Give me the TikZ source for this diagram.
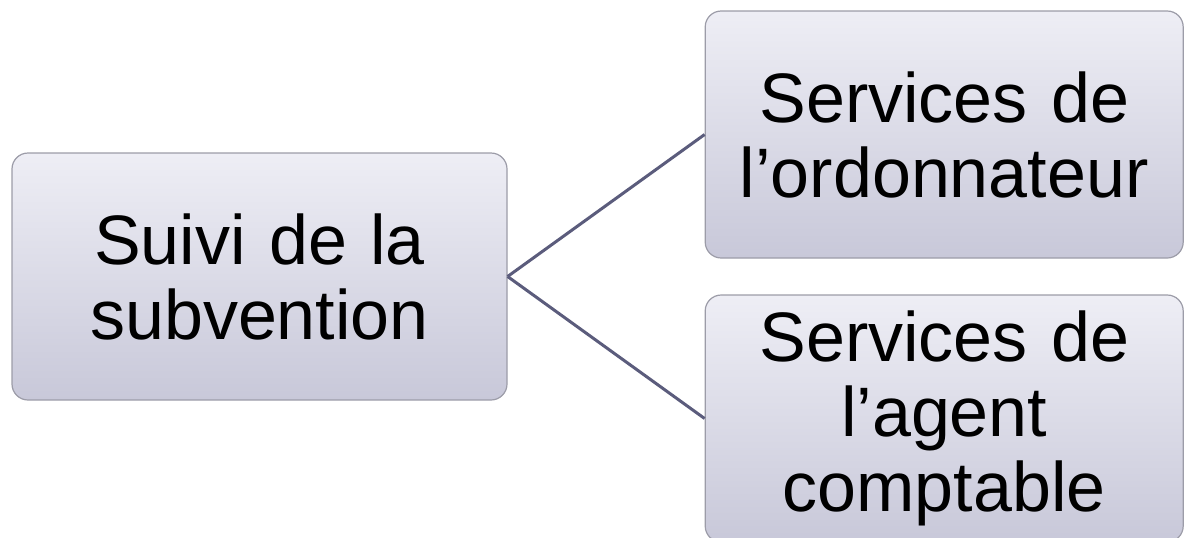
\documentclass[tikz,border=0pt]{standalone}
\usepackage{fontspec}
\setmainfont{Liberation Sans}
\usepackage{tikz}
\usetikzlibrary{positioning}

\definecolor{boxtop}{HTML}{EEEEF5}
\definecolor{boxbot}{HTML}{C8C8D9}
\definecolor{boxline}{HTML}{9C9CA8}
\definecolor{linkcol}{HTML}{5B5C7C}

\begin{document}
\begin{tikzpicture}[
    topic/.style={rectangle, draw=boxline, line width=0.6pt, rounded corners=8pt,
        top color=boxtop, bottom color=boxbot, minimum width=247.5pt, minimum height=123.5pt,
        text width=230pt, align=center, font=\fontsize{35}{37.5}\selectfont},
    service/.style={topic, minimum width=239pt, text width=225pt},
    link/.style={draw=linkcol, line width=1.5pt}
]
\useasboundingbox (0,0) rectangle (592pt,-268.5pt);
\node (Suivi00) [topic] at (129.75pt,-138.25pt) {Suivi de la\\subvention};
\node (Service01) [service, right=98.5pt of Suivi00, yshift=71pt] {Services de\\l’ordonnateur};
\node (Service02) [service, right=98.5pt of Suivi00, yshift=-71pt] {Services de\\l’agent\\comptable};

\draw [link] (Suivi00.east) -- (Service01.west);
\draw [link] (Suivi00.east) -- (Service02.west);
\end{tikzpicture}
\end{document}
